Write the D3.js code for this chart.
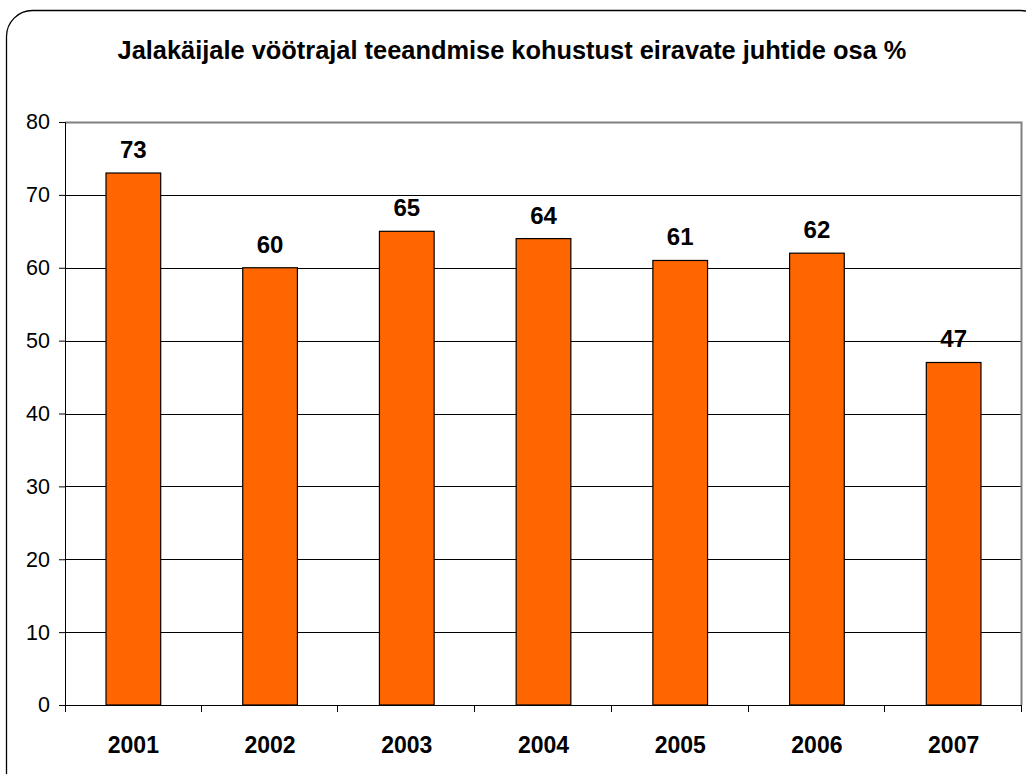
<!DOCTYPE html>
<html>
<head>
<meta charset="utf-8">
<script src="https://cdn.jsdelivr.net/npm/d3@7"></script>
<style>
body { margin: 0; background: #fff; }
text { font-family: Arial, "Liberation Sans", sans-serif; }
</style>
</head>
<body>
<svg class="chart" width="1026" height="774"></svg>
<script>
const years = ["2001", "2002", "2003", "2004", "2005", "2006", "2007"]
const shares = [73, 60, 65, 64, 61, 62, 47]
const yTicks = [0, 10, 20, 30, 40, 50, 60, 70, 80]
const title = "Jalakäijale vöötrajal teeandmise kohustust eiravate juhtide osa %"

const svg = d3.select("svg.chart")

// outer rounded frame, runs off the right and bottom edges
svg.append("rect")
	.attr("x", 6.5)
	.attr("y", 10.5)
	.attr("width", 1040)
	.attr("height", 790)
	.attr("rx", 26)
	.attr("fill", "#fff")
	.attr("stroke", "#000")
	.attr("stroke-width", 1.3)

svg.append("text")
	.attr("x", 512)
	.attr("y", 59)
	.attr("text-anchor", "middle")
	.style("font-size", "25.4px")
	.attr("font-weight", "bold")
	.text(title)

const plotLeft = 65, plotRight = 1022, plotTop = 122, plotBottom = 705

const x = d3.scaleBand()
	.domain(years)
	.range([plotLeft, plotRight])

const y = d3.scaleLinear()
	.domain([0, 80])
	.range([plotBottom, plotTop])

// gridlines
svg.append("g")
	.selectAll("line")
	.data(yTicks.filter(d => d > 0 && d < 80))
	.enter()
	.append("line")
	.attr("x1", plotLeft)
	.attr("x2", plotRight)
	.attr("y1", d => Math.round(y(d)) + 0.5)
	.attr("y2", d => Math.round(y(d)) + 0.5)
	.attr("stroke", "#000")
	.attr("stroke-width", 1)

// plot area border (top + right, gray)
svg.append("path")
	.attr("d", `M${plotLeft},${plotTop + 0.5}H${plotRight - 0.5}V${plotBottom}`)
	.attr("fill", "none")
	.attr("stroke", "#808080")
	.attr("stroke-width", 2)

// bars
svg.append("g")
	.selectAll("rect")
	.data(shares)
	.enter()
	.append("rect")
	.attr("x", (d, i) => x(years[i]) + x.bandwidth() * 0.3)
	.attr("y", d => y(d))
	.attr("width", x.bandwidth() * 0.4)
	.attr("height", d => plotBottom - y(d))
	.attr("fill", "#ff6600")
	.attr("stroke", "#000")
	.attr("stroke-width", 1.2)

// value labels
svg.append("g")
	.selectAll("text")
	.data(shares)
	.enter()
	.append("text")
	.attr("x", (d, i) => x(years[i]) + x.bandwidth() / 2)
	.attr("y", d => y(d) - 15)
	.attr("text-anchor", "middle")
	.style("font-size", "24px")
	.attr("font-weight", "bold")
	.text(d => d)

// y axis
const yAxis = svg.append("g")
	.attr("transform", `translate(${plotLeft},0)`)
	.call(d3.axisLeft(y).tickValues(yTicks).tickSize(6).tickPadding(9))
yAxis.select(".domain").attr("stroke", "#000")
yAxis.selectAll("text")
	.style("font-size", "21.5px")
	.attr("fill", "#000")
	.attr("font-family", "Arial, 'Liberation Sans', sans-serif")

// x axis with ticks at category boundaries
const xAxis = svg.append("g")
	.attr("transform", `translate(0,${plotBottom})`)
xAxis.append("line")
	.attr("x1", plotLeft - 6)
	.attr("x2", plotRight)
	.attr("y1", 0.5)
	.attr("y2", 0.5)
	.attr("stroke", "#000")
xAxis.selectAll("line.tick")
	.data(years.slice(1).concat(["end"]))
	.enter()
	.append("line")
	.attr("class", "tick")
	.attr("x1", (d, i) => Math.round(i < years.length - 1 ? x(d) : plotRight) - 0.5)
	.attr("x2", (d, i) => Math.round(i < years.length - 1 ? x(d) : plotRight) - 0.5)
	.attr("y1", 0)
	.attr("y2", 7)
	.attr("stroke", "#000")
xAxis.append("line")
	.attr("x1", plotLeft + 0.5)
	.attr("x2", plotLeft + 0.5)
	.attr("y1", 0)
	.attr("y2", 7)
	.attr("stroke", "#000")
xAxis.selectAll("text")
	.data(years)
	.enter()
	.append("text")
	.attr("x", d => x(d) + x.bandwidth() / 2)
	.attr("y", 48)
	.attr("text-anchor", "middle")
	.style("font-size", "23px")
	.attr("font-weight", "bold")
	.text(d => d)
</script>
</body>
</html>
